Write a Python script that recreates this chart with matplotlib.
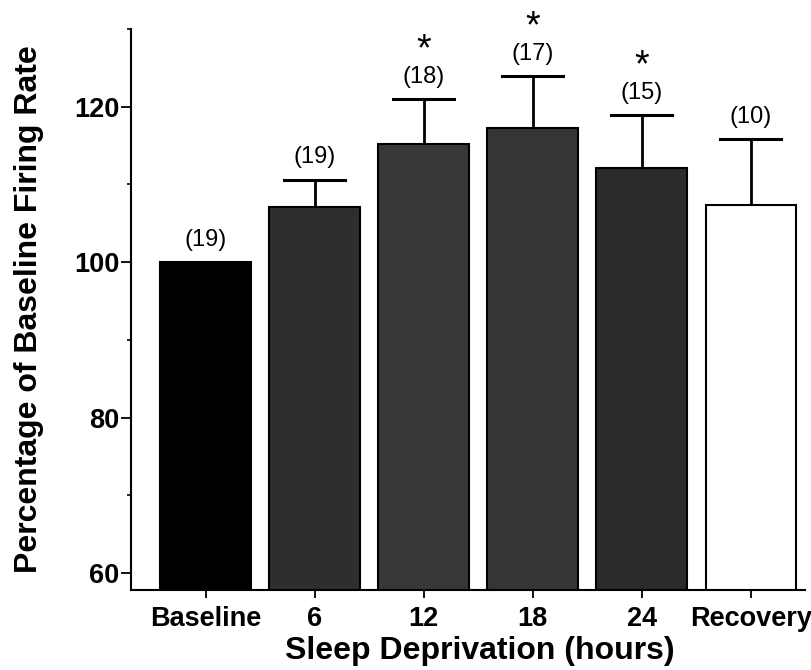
import matplotlib.pyplot as plt
from matplotlib.ticker import MultipleLocator

# dati
gruppi = ['Baseline', '6', '12', '18', '24', 'Recovery']
valori = [100, 107.1, 115.2, 117.3, 112.1, 107.3]
errori = [0, 3.5, 5.8, 6.6, 6.8, 8.5]
n_soggetti = ['(19)', '(19)', '(18)', '(17)', '(15)', '(10)']
significativo = [False, False, True, True, True, False]
colori = ['#000000', '#2e2e2e', '#383838', '#353535', '#2b2b2b', '#ffffff']

plt.rcParams['font.family'] = ['Liberation Sans', 'DejaVu Sans']

fig = plt.figure(figsize=(8.12, 6.70), dpi=100)
ax = fig.add_axes([0.161, 0.119, 0.830, 0.838])

x = list(range(len(gruppi)))
ax.bar(x, valori, width=0.83, color=colori, edgecolor='black', linewidth=1.5, zorder=2)

for i in x:
    if errori[i] > 0:
        top = valori[i] + errori[i]
        ax.plot([i, i], [valori[i], top], color='black', lw=2, zorder=1)
        ax.plot([i - 0.28, i + 0.28], [top, top], color='black', lw=2.2, zorder=1)
    else:
        top = valori[i]
    ax.annotate(n_soggetti[i], (i, top), xytext=(0, 16), textcoords='offset points',
                ha='center', va='center', fontsize=17)
    if significativo[i]:
        ax.annotate('*', (i, top), xytext=(0, 35), textcoords='offset points',
                    ha='center', va='center', fontsize=27)

ax.set_xlim(-0.688, 5.495)
ax.set_ylim(57.8, 130)
ax.yaxis.set_major_locator(MultipleLocator(20))
ax.yaxis.set_minor_locator(MultipleLocator(10))
ax.set_yticks([60, 80, 100, 120])
ax.set_xticks(x)
ax.set_xticklabels(gruppi, fontsize=19.5, fontweight='bold')
for lab in ax.get_yticklabels():
    lab.set_fontsize(19.5)
    lab.set_fontweight('bold')

ax.tick_params(axis='y', which='major', length=7, width=1.3, pad=1)
ax.tick_params(axis='y', which='minor', length=3, width=1.2)
ax.tick_params(axis='x', length=6, width=1.3, pad=5)

ax.spines['top'].set_visible(False)
ax.spines['right'].set_visible(False)
ax.spines['left'].set_linewidth(1.5)
ax.spines['bottom'].set_linewidth(1.5)

ax.set_xlabel('Sleep Deprivation (hours)', fontsize=23, fontweight='bold')
ax.set_ylabel('Percentage of Baseline Firing Rate', fontsize=23, fontweight='bold')
ax.xaxis.set_label_coords(0.518, -0.082)
ax.yaxis.set_label_coords(-0.129, 0.5)

fig.savefig('out.png', dpi=100)
